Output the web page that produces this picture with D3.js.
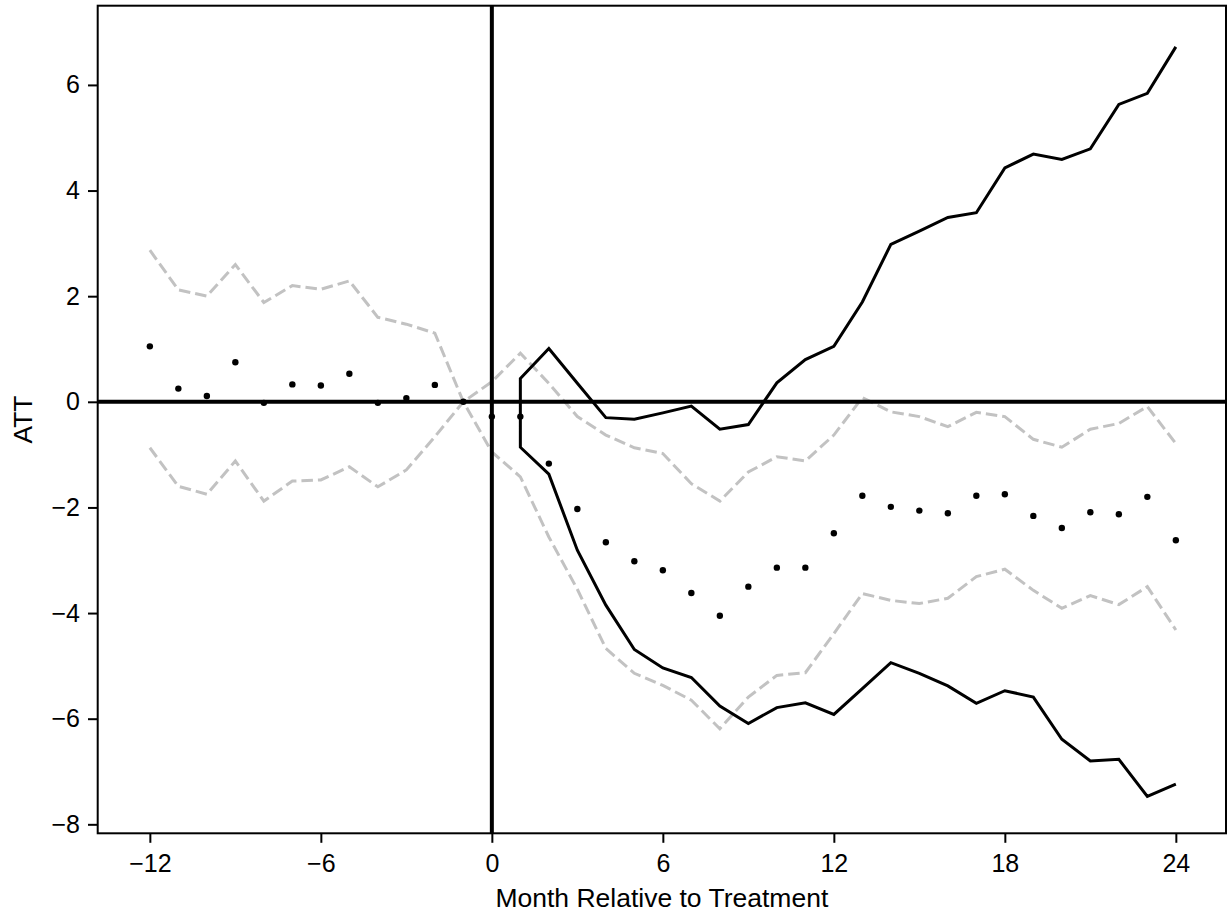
<!DOCTYPE html>
<html>
<head>
<meta charset="utf-8">
<title>ATT event study</title>
<script src="https://cdn.jsdelivr.net/npm/d3@7"></script>
<style>
  body { margin: 0; background: #fff; }
  text { font-family: "Liberation Sans", Arial, Helvetica, sans-serif; fill: #000; }
</style>
</head>
<body>
<script>
// months relative to treatment
var months = d3.range(-12, 25);
var xTicks = [-12, -6, 0, 6, 12, 18, 24];
var yTicks = [-8, -6, -4, -2, 0, 2, 4, 6];

// point estimates (-12 .. 24)
var att = [1.05, 0.25, 0.11, 0.75, -0.02, 0.33, 0.31, 0.53, -0.02, 0.07, 0.32, 0,
  -0.28, -0.28, -1.17, -2.03, -2.66, -3.02, -3.19, -3.62, -4.05, -3.50, -3.14, -3.14, -2.49,
  -1.78, -1.99, -2.06, -2.11, -1.78, -1.75, -2.16, -2.39, -2.09, -2.13, -1.80, -2.62];

// pointwise interval, grey dashed (-12 .. 24)
var ciUpper = [2.87, 2.12, 2.00, 2.60, 1.88, 2.20, 2.13, 2.29, 1.60, 1.47, 1.30, 0,
  0.38, 0.92, 0.35, -0.28, -0.63, -0.87, -0.98, -1.55, -1.88, -1.33, -1.04, -1.12, -0.63,
  0.08, -0.19, -0.28, -0.47, -0.20, -0.28, -0.71, -0.86, -0.52, -0.41, -0.09, -0.79];
var ciLower = [-0.87, -1.60, -1.75, -1.12, -1.88, -1.50, -1.48, -1.23, -1.61, -1.29, -0.66, 0,
  -0.95, -1.42, -2.56, -3.55, -4.67, -5.14, -5.37, -5.65, -6.19, -5.59, -5.18, -5.13, -4.39,
  -3.63, -3.76, -3.82, -3.72, -3.31, -3.17, -3.57, -3.91, -3.67, -3.84, -3.50, -4.32];

// black solid band, months 1 .. 24
var bandMonths = d3.range(1, 25);
var bandUpper = [0.44, 1.01, 0.35, -0.30, -0.33, -0.21, -0.08, -0.52, -0.43, 0.36, 0.80, 1.05,
  1.89, 2.98, 3.23, 3.49, 3.58, 4.43, 4.69, 4.59, 4.79, 5.63, 5.84, 6.72];
var bandLower = [-0.86, -1.37, -2.81, -3.85, -4.69, -5.04, -5.22, -5.76, -6.09, -5.79, -5.70, -5.92,
  -5.43, -4.94, -5.14, -5.38, -5.71, -5.47, -5.59, -6.39, -6.80, -6.77, -7.47, -7.24];

// canvas
var width = 1229;
var height = 917;
var margin = {left: 97.7, right: 3, top: 5.7, bottom: 83.7};
var w = width - margin.left - margin.right;
var h = height - margin.top - margin.bottom;

var svg = d3.select("body").append("svg")
  .attr("width", width)
  .attr("height", height);

var g = svg.append("g")
  .attr("transform", "translate(" + margin.left + "," + margin.top + ")");

var x = d3.scaleLinear().domain([-13.83, 25.76]).range([0, w]);
var y = d3.scaleLinear().domain([-8.17, 7.5]).range([h, 0]);

// grey dashed interval lines
var line = d3.line().x(function(d){ return x(d[0]); }).y(function(d){ return y(d[1]); });

[ciUpper, ciLower].forEach(function(arr){
  g.append("path")
    .datum(months.map(function(m, i){ return [m, arr[i]]; }))
    .attr("d", line)
    .attr("fill", "none")
    .attr("stroke", "#c2c2c2")
    .attr("stroke-width", 3)
    .attr("stroke-dasharray", "11.5,5");
});

// black band: lower from 24 back to 1, then upper from 1 to 24
var bandPts = bandMonths.map(function(m, i){ return [m, bandLower[i]]; }).reverse()
  .concat(bandMonths.map(function(m, i){ return [m, bandUpper[i]]; }));
g.append("path")
  .datum(bandPts)
  .attr("d", line)
  .attr("fill", "none")
  .attr("stroke", "#000")
  .attr("stroke-width", 3)
  .attr("stroke-linejoin", "miter");

// reference lines
g.append("line")
  .attr("x1", 0).attr("x2", w)
  .attr("y1", y(0)).attr("y2", y(0))
  .attr("stroke", "#000").attr("stroke-width", 4);
g.append("line")
  .attr("x1", x(0)).attr("x2", x(0))
  .attr("y1", 0).attr("y2", h)
  .attr("stroke", "#000").attr("stroke-width", 4);

// points
g.selectAll(".dot")
  .data(months)
  .enter()
  .append("circle")
  .attr("class", "dot")
  .attr("cx", function(d){ return x(d); })
  .attr("cy", function(d, i){ return y(att[i]); })
  .attr("r", 3.2)
  .attr("fill", "#000");

// axes
var xAxis = d3.axisBottom(x).tickValues(xTicks).tickSize(9.5).tickPadding(11.5).tickSizeOuter(0);
var yAxis = d3.axisLeft(y).tickValues(yTicks).tickSize(9.7).tickPadding(8).tickSizeOuter(0);

var gx = g.append("g").attr("transform", "translate(0," + h + ")").call(xAxis);
var gy = g.append("g").call(yAxis);
[gx, gy].forEach(function(a){
  a.select(".domain").remove();
  a.selectAll(".tick line").attr("stroke", "#000").attr("stroke-width", 2);
  a.selectAll(".tick text").attr("font-size", "25px").attr("fill", "#000")
    .attr("font-family", "'Liberation Sans', Arial, Helvetica, sans-serif");
});

// frame
g.append("rect")
  .attr("x", 0).attr("y", 0)
  .attr("width", w).attr("height", h)
  .attr("fill", "none")
  .attr("stroke", "#000")
  .attr("stroke-width", 2);

// axis titles
svg.append("text")
  .attr("x", margin.left + w / 2)
  .attr("y", 907)
  .attr("text-anchor", "middle")
  .attr("font-size", "26.5px")
  .text("Month Relative to Treatment");

svg.append("text")
  .attr("transform", "translate(32," + (margin.top + h / 2) + ") rotate(-90)")
  .attr("text-anchor", "middle")
  .attr("font-size", "26.5px")
  .text("ATT");
</script>
</body>
</html>
